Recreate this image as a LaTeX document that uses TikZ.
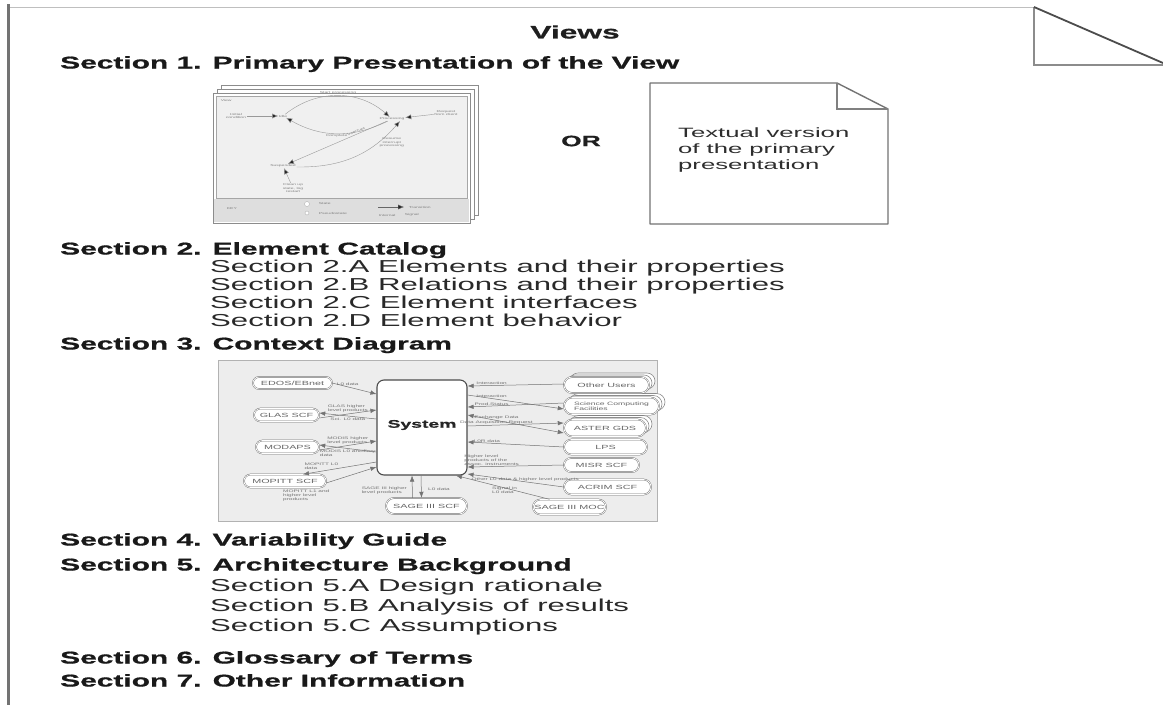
\documentclass[tikz,border=0pt]{standalone}
\usepackage{fontspec}
\setmainfont{Liberation Sans}
\newfontfamily\wide[FakeStretch=1.8]{Liberation Sans}
\newfontfamily\headfont[FakeStretch=1.76, FakeBold=0.8]{Liberation Sans Bold}
\newfontfamily\docfont[FakeStretch=1.9]{Liberation Sans}
\usetikzlibrary{arrows.meta,shapes.misc}

\tikzset{
  heading/.style={anchor=west, inner sep=0pt, text height=12pt, text depth=3pt,
    font=\headfont\fontsize{17}{17}\selectfont, text=black!90},
  subitem/.style={anchor=west, inner sep=0pt, text height=12pt, text depth=3pt,
    font=\wide\fontsize{17.3}{17}\selectfont, text=black!84},
  pill/.style={rounded rectangle, draw=black!55, line width=0.45pt, double=white,
    double distance=0.7pt, fill=white, inner sep=1pt,
    font=\wide\fontsize{6}{6}\selectfont, text=black!60},
  pillback/.style={rounded rectangle, draw=black!45, line width=0.6pt, fill=white, inner sep=1pt},
  conn/.style={draw=black!55, line width=0.5pt, -{Latex[length=6pt,width=4.5pt]}},
  biconn/.style={draw=black!55, line width=0.5pt, {Latex[length=6pt,width=4.5pt]}-{Latex[length=6pt,width=4.5pt]}},
  lbl/.style={font=\wide\fontsize{3.6}{4}\selectfont, text=black!55, inner sep=0pt, align=left},
  mini/.style={font=\wide\fontsize{2.8}{3.2}\selectfont, text=black!50, inner sep=0.6pt, align=center},
  mconn/.style={draw=black!40, line width=0.4pt, -{Latex[length=6pt,width=5pt,fill=black!85]}},
  sheet/.style={draw=black!45, line width=0.7pt, fill=white},
}

\begin{document}
\begin{tikzpicture}[x=1pt,y=-1pt]
\useasboundingbox (0,0) rectangle (1163,705);
\fill[white] (0,0) rectangle (1163,705);

% page edges and the folded corner
\draw[black!25, line width=0.6pt] (8,7) -- (1034,7);
\draw[black!55, line width=3pt] (8,4) -- (8,705);
\draw[black!45, line width=1.5pt] (1034,7) -- (1034,65) -- (1163,65);
\draw[black!70, line width=1.8pt] (1034,7) -- (1163,63);

% title and section headings
\node[font=\headfont\fontsize{18}{18}\selectfont, text=black!88, inner sep=0pt] (title) at (575,32) {Views};
\node[heading] (s1) at (60,64) {Section 1. Primary Presentation of the View};
\node[heading] (s2) at (60,250) {Section 2. Element Catalog};
\node[subitem] (s2a) at (210,268) {Section 2.A Elements and their properties};
\node[subitem] (s2b) at (210,286) {Section 2.B Relations and their properties};
\node[subitem] (s2c) at (210,304) {Section 2.C Element interfaces};
\node[subitem] (s2d) at (210,322) {Section 2.D Element behavior};
\node[heading] (s3) at (60,345) {Section 3. Context Diagram};
\node[heading] (s4) at (60,541) {Section 4. Variability Guide};
\node[heading] (s5) at (60,566) {Section 5. Architecture Background};
\node[subitem] (s5a) at (210,587) {Section 5.A Design rationale};
\node[subitem] (s5b) at (210,607) {Section 5.B Analysis of results};
\node[subitem] (s5c) at (210,627) {Section 5.C Assumptions};
\node[heading] (s6) at (60,659) {Section 6. Glossary of Terms};
\node[heading] (s7) at (60,682) {Section 7. Other Information};

% ---- Section 1: stacked sheets holding a small state diagram ----
\draw[sheet] (221,85) rectangle (478,215);
\draw[sheet] (217,89) rectangle (474,219);
\draw[sheet] (213,93) rectangle (470,223);
\fill[black!6, draw=black!35, line width=0.5pt] (216,96) rectangle (467,198);
\fill[black!13] (214,199) rectangle (469,222);

\node[mini, anchor=west] (tv) at (220,100) {View};
\node[mini] (t1) at (236,116) {Initial\\condition};
\node[mini] (t2) at (283,116) {Idle};
\node[mini] (t5) at (392,119) {Processing};
\node[mini] (t6) at (446,113) {Request\\from client};
\node[mini] (t9) at (283,166) {Suspended};
\node[mini] (t10) at (293,188) {Clean up\\state, log\\restart};
\draw[mconn] (t1) -- (t2);
\draw[mconn] (t2) to[bend left=40] node[mini, above=0.5pt] (t3) {Start processing} (t5);
\draw[mconn] (t5) to[bend left=28] node[mini, below=0.5pt] (t4) {Complete} (t2);
\draw[mconn] (t6) -- (t5);
\draw[mconn] (t5) -- node[mini, sloped, above=0.5pt, pos=0.3] (t7) {Interrupt} (t9);
\draw[mconn] (t9) to[bend right=25] node[mini, pos=0.75, right=1pt] (t8) {Resume\\interrupt\\processing} ([xshift=8pt]t5.south);
\draw[mconn] (t10) -- (t9);

\node[mini, anchor=west] (k0) at (226,209) {KEY};
\node[circle, draw=black!30, fill=white, inner sep=0pt, minimum size=5pt] (kc1) at (307,204) {};
\node[circle, draw=black!30, fill=white, inner sep=0pt, minimum size=4pt] (kc2) at (307,213) {};
\node[mini, anchor=west] (k1) at (318,204) {State};
\node[mini, anchor=west] (k2) at (318,213) {Pseudostate};
\coordinate (ka) at (378,207);
\coordinate (kb) at (404,207);
\draw[mconn, draw=black!60] (ka) -- (kb);
\node[mini, anchor=west] (k3) at (408,207) {Transition};
\node[mini, anchor=west] (k4) at (378,215) {Internal};
\node[mini, anchor=west] (k5) at (404,215) {Signal};

% OR between the two alternatives
\node[font=\headfont\fontsize{15}{15}\selectfont, text=black!88, inner sep=0pt] (or) at (581,141) {OR};

% textual version: a sheet with a folded corner
\draw[black!55, line width=1.4pt, fill=white, line join=round]
  (650,83) -- (837,83) -- (888,109) -- (888,224) -- (650,224) -- cycle;
\draw[black!50, line width=1.2pt] (837,83) -- (837,109) -- (888,109);
\node[anchor=north west, align=left, inner sep=0pt, text=black!82,
  font=\docfont\fontsize{13.5}{15.8}\selectfont] (doc) at (678,128)
  {Textual version\\of the primary\\presentation};

% ---- Section 3: context diagram ----
\node[draw=black!30, fill=black!7, line width=0.8pt, minimum width=439pt,
  minimum height=161pt, anchor=north west, inner sep=0pt] (ctx) at (218,360) {};

\node[draw=black!70, line width=1.1pt, fill=white, rounded corners=7pt,
  minimum width=90pt, minimum height=95pt, inner sep=0pt] (sys) at (422,427.5) {};
\node[font=\headfont\fontsize{11}{11}\selectfont, text=black!85, inner sep=0pt] (systxt) at (sys.center |- 0,425) {System};

% stacked pills behind the multi-instance entities
\node[pillback, minimum width=87pt, minimum height=16pt] (users3) at (612.5,381) {};
\node[pillback, minimum width=87pt, minimum height=16pt] (users2) at (609.5,383) {};
\node[pillback, minimum width=97pt, minimum height=17pt] (scf3) at (617.5,402) {};
\node[pillback, minimum width=97pt, minimum height=17pt] (scf2) at (614.5,404) {};
\node[pillback, minimum width=84pt, minimum height=17pt] (aster3) at (611,424) {};
\node[pillback, minimum width=84pt, minimum height=17pt] (aster2) at (608,426) {};

\node[pill, minimum width=81pt, minimum height=12pt] (edos) at (292.5,383) {EDOS/EBnet};
\node[pill, minimum width=67pt, minimum height=13pt] (glas) at (286.5,415) {GLAS SCF};
\node[pill, minimum width=65pt, minimum height=13pt] (modaps) at (287.5,447) {MODAPS};
\node[pill, minimum width=84pt, minimum height=13pt] (mopitt) at (285,481) {MOPITT SCF};
\node[pill, minimum width=83pt, minimum height=16pt] (sagescf) at (426.5,506) {SAGE III SCF};
\node[pill, minimum width=87pt, minimum height=16pt] (users) at (606.5,385) {Other Users};
\node[pill, minimum width=97pt, minimum height=17pt, align=left,
  font=\wide\fontsize{4.8}{4.6}\selectfont] (scf) at (611.5,406) {Science Computing\\Facilities};
\node[pill, minimum width=84pt, minimum height=17pt] (aster) at (605,428) {ASTER GDS};
\node[pill, minimum width=85pt, minimum height=15pt] (lps) at (605.5,447) {LPS};
\node[pill, minimum width=77pt, minimum height=14pt] (misr) at (601.5,465) {MISR SCF};
\node[pill, minimum width=89pt, minimum height=15pt] (acrim) at (607.5,487) {ACRIM SCF};
\node[pill, minimum width=75pt, minimum height=15pt] (sagemoc) at (569.5,507) {SAGE III MOC};

% left-hand flows
\draw[conn] (edos.east) -- node[lbl, above=1pt, pos=0.35] (l1) {L0 data} (sys.west |- 0,394);
\draw[conn] ([yshift=-3pt]glas.east) -- node[lbl, above=1.5pt] (l2) {GLAS higher\\level products} (sys.west |- 0,410);
\draw[conn] (sys.west |- 0,419) -- node[lbl, below=1.5pt] (l3) {Sci. L0 data} ([yshift=2pt]glas.east);
\draw[conn] ([yshift=-3pt]modaps.east) -- node[lbl, above=1.5pt] (l4) {MODIS higher\\level products} (sys.west |- 0,441);
\draw[conn] (sys.west |- 0,452) -- node[lbl, below=1.5pt] (l5) {MODIS L0 ancillary\\data} ([yshift=2pt]modaps.east);
\draw[conn] (sys.west |- 0,462) -- node[lbl, above=1pt, pos=0.75] (l6) {MOPITT L0\\data} ([xshift=18pt]mopitt.north);
\draw[conn] ([yshift=-2pt]mopitt.east) -- (sys.west |- 0,467);
\node[lbl, anchor=north west] (l7) at (283,490) {MOPITT L1 and\\higher level\\products};

% flows below the system
\draw[conn] ([xshift=-14pt]sagescf.north) -- (sys.south -| 412,0);
\draw[conn] (sys.south -| 421,0) -- ([xshift=-5pt]sagescf.north);
\node[lbl, anchor=east] (l8) at (407,491) {SAGE III higher\\level products};
\node[lbl, anchor=west] (l9) at (428,489) {L0 data};
\draw[conn] ([xshift=-20pt]sagemoc.north) -- (sys.south -| 456,0);
\node[lbl, anchor=west] (l10) at (492,490) {Signal in\\L0 data};

% right-hand flows
\draw[conn] ([yshift=1pt]users.west) -- node[lbl, above=0.5pt, pos=0.75] (r1) {Interaction} (sys.east |- 0,386);
\draw[conn] (sys.east |- 0,395) -- node[lbl, above=0.5pt, pos=0.25] (r2) {Interaction} ([yshift=-3pt]scf.west);
\draw[conn] ([yshift=3pt]scf.west) -- node[lbl, above=0.5pt, pos=0.75] (r3) {Prod.Status} (sys.east |- 0,407);
\draw[biconn] (sys.east |- 0,415) -- node[lbl, above=0.5pt, pos=0.3] (r4) {Exchange Data} ([yshift=-5pt]aster.west);
\draw[conn] (sys.east |- 0,426) -- node[lbl, above=0.3pt, pos=0.3] (r5) {Data Acquisition Request} ([yshift=5pt]aster.west);
\draw[conn] (lps.west) -- node[lbl, above=0.5pt, pos=0.8] (r6) {L0R data} (sys.east |- 0,442);
\draw[conn] (misr.west) -- node[lbl, above=1pt, pos=0.75] (r7) {Higher level\\products of the\\assoc. instruments} (sys.east |- 0,467);
\draw[conn] (acrim.west) -- node[lbl, above=0.3pt, pos=0.4] (r8) {Other L0 data \& higher level products} (sys.east |- 0,474);

\end{tikzpicture}
\end{document}
